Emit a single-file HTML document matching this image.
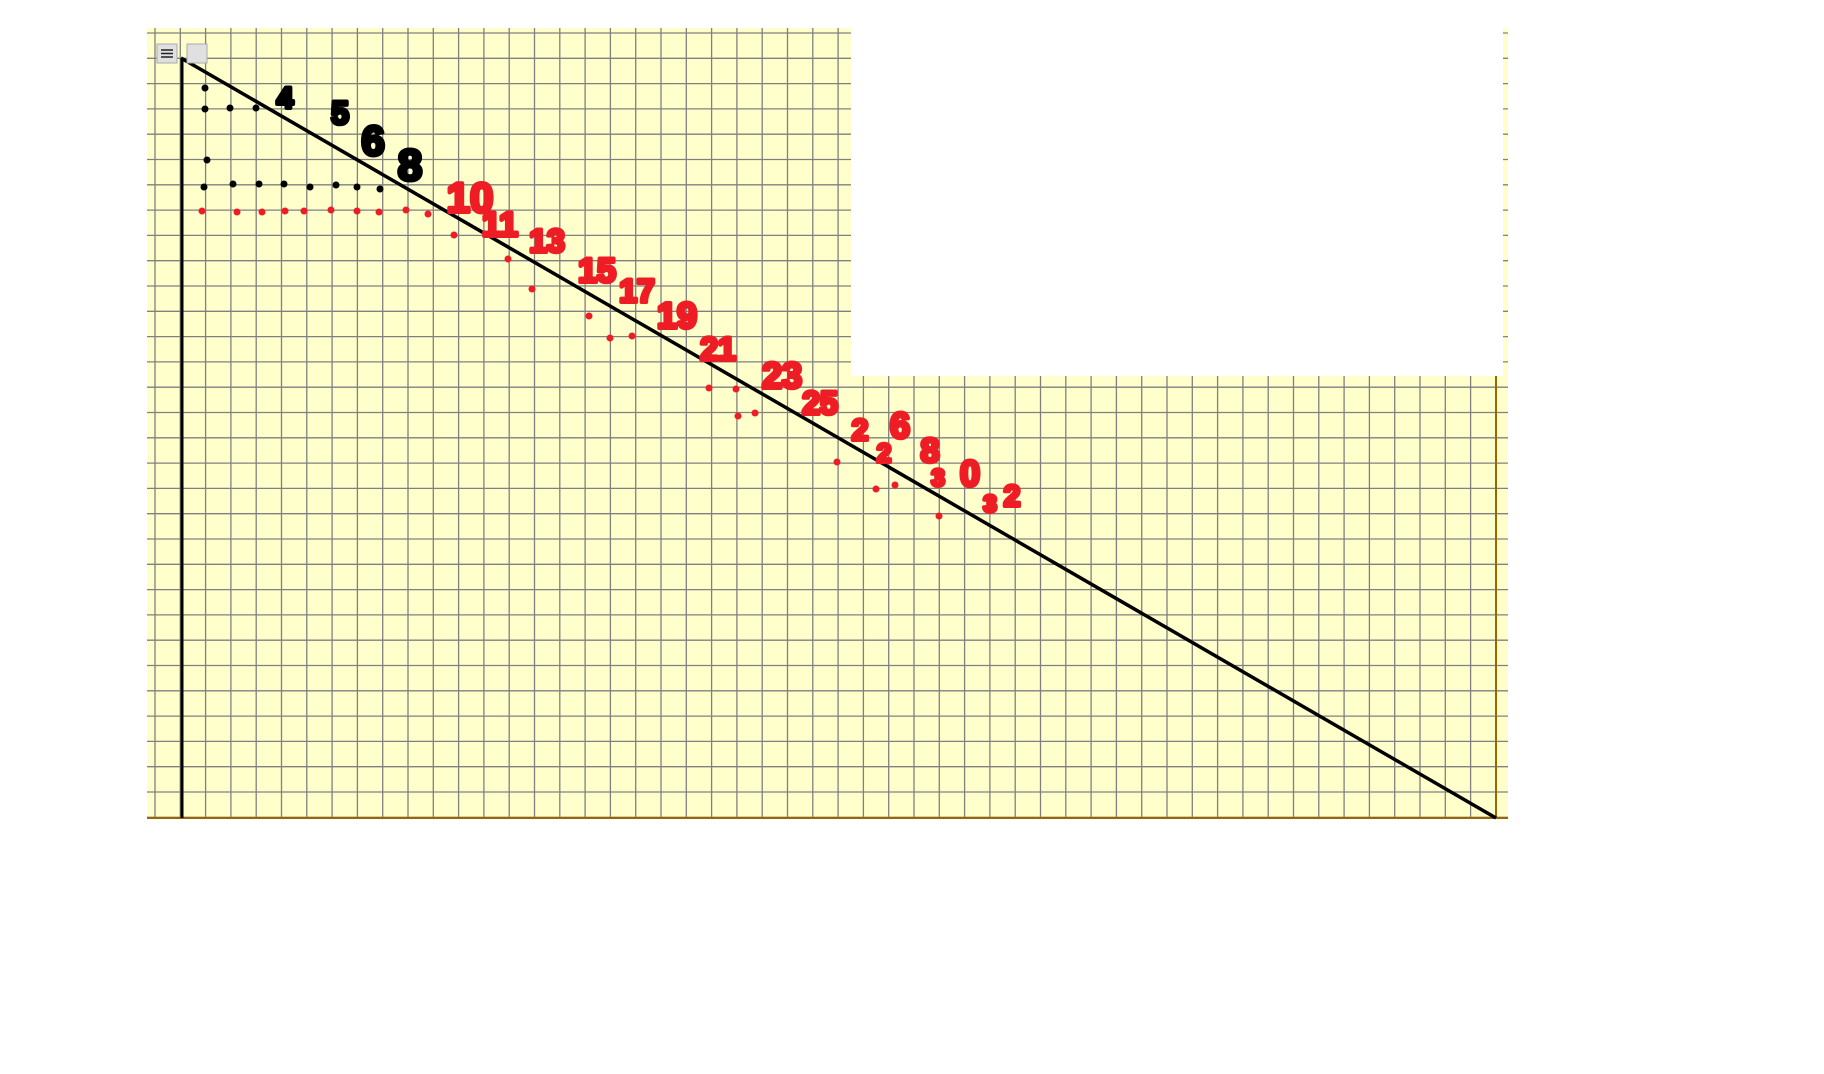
<!DOCTYPE html>
<html><head><meta charset="utf-8"><style>
html,body{margin:0;padding:0;background:#fff;width:1824px;height:1074px;overflow:hidden}
svg{display:block}
text{font-family:"Liberation Sans",sans-serif;font-weight:bold}
</style></head><body>
<svg id="chart" width="1824" height="1074" viewBox="0 0 1824 1074" xmlns="http://www.w3.org/2000/svg">
<rect x="147" y="28" width="1361" height="790" fill="#ffffcc"/>
<g id="grid"></g>
<rect x="851" y="28" width="652" height="348" fill="#ffffff"/>
<line x1="147" y1="818" x2="1508" y2="818" stroke="#996600" stroke-width="2"/>
<line x1="1496" y1="376" x2="1496" y2="818" stroke="#996600" stroke-width="2"/>
<line x1="182" y1="58" x2="182" y2="818" stroke="#000" stroke-width="3"/>
<line x1="181" y1="58" x2="1496" y2="818" stroke="#000" stroke-width="3.5"/>
<g id="dots"></g>
<g id="labels"></g>
<rect x="157" y="44" width="20" height="19" fill="#e0e0e0" stroke="#aaa"/>
<g stroke="#222" stroke-width="1.5"><line x1="161" y1="50" x2="173" y2="50"/><line x1="161" y1="53.5" x2="173" y2="53.5"/><line x1="161" y1="57" x2="173" y2="57"/></g>
<rect x="187" y="44" width="20" height="19" fill="#e0e0e0" stroke="#aaa"/>
</svg>
<script>
const blackDots=[[205,88],[205,109],[230,108],[256,108],[207,160],[204,187],[233,184],[259,184],[284,184],[310,187],[336,185],[357,187],[380,189]];
const redDots=[[202,211],[237,212],[262,212],[285,211],[304,211],[331,210],[357,211],[379,212],[406,210],[428,214],[454,235],[508,259],[532,289],[589,316],[610,338],[632,336],[709,388],[736,389],[738,416],[755,413],[837,462],[876,489],[895,485],[939,516]];
const blackLabels=[["4",285,108,30],["5",340,124,32],["6",373,155,42],["8",410,180,44]];
const redLabels=[["10",470,212,42],["11",500,236,34],["13",547,252,32],["15",597,282,34],["17",637,302,32],["19",677,328,36],["21",718,360,32],["23",782,388,36],["25",820,414,32],["2",860,440,30],["6",900,438,36],["2",884,462,26],["8",930,462,34],["3",938,486,24],["0",970,486,36],["3",990,512,24],["2",1012,506,30]];
const NS="http://www.w3.org/2000/svg";
const grid=document.getElementById('grid');
for(let x=155;x<1508;x+=25.3){const l=document.createElementNS(NS,'line');


l.setAttribute('x1',x);l.setAttribute('x2',x);l.setAttribute('y1',28);l.setAttribute('y2',818);l.setAttribute('stroke','#808080');l.setAttribute('stroke-width','1.3');grid.appendChild(l);}
for(let y=33;y<818;y+=25.3){const l=document.createElementNS(NS,'line');


l.setAttribute('y1',y);l.setAttribute('y2',y);l.setAttribute('x1',147);l.setAttribute('x2',1508);l.setAttribute('stroke','#808080');l.setAttribute('stroke-width','1.3');grid.appendChild(l);}
const dots=document.getElementById('dots');
function dot(p,c,name){const e=document.createElementNS(NS,'circle');


e.setAttribute('cx',p[0]);e.setAttribute('cy',p[1]);e.setAttribute('r',3.5);e.setAttribute('fill',c);dots.appendChild(e);}
blackDots.forEach(p=>dot(p,'#000','black-dot'));
redDots.forEach(p=>dot(p,'#ee1c24','red-dot'));
const labels=document.getElementById('labels');
function lab(d,c,name){const t=document.createElementNS(NS,'text');


t.setAttribute('x',d[1]);t.setAttribute('y',d[2]);t.setAttribute('font-size',d[3]);t.setAttribute('text-anchor','middle');t.setAttribute('fill',c);t.setAttribute('stroke',c);t.setAttribute('stroke-width','4');t.setAttribute('stroke-linejoin','round');t.textContent=d[0];labels.appendChild(t);}
blackLabels.forEach(d=>lab(d,'#000','black-number'));
redLabels.forEach(d=>lab(d,'#ee1c24','red-number'));
</script>
</body></html>
